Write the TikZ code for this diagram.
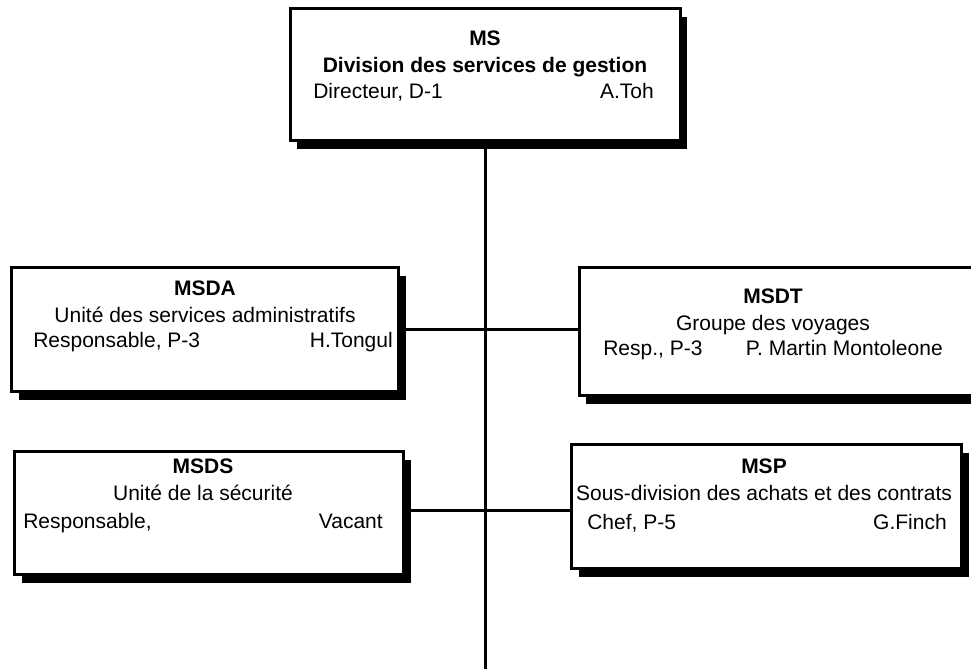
\documentclass[tikz,border=0pt]{standalone}
\usepackage{fontspec}
\setmainfont{Liberation Sans}
\usetikzlibrary{shadows}

\tikzset{
	unitbox/.style={draw,line width=2.25pt,fill=white,inner sep=0,outer sep=0,
		drop shadow={shadow xshift=5.5pt,shadow yshift=-6pt,fill=black,opacity=1}},
	heading/.style={anchor=north,inner sep=0,align=center,font=\fontsize{15.75}{20.25}\selectfont},
	roleleft/.style={anchor=base west,inner sep=0,font=\fontsize{15.75}{20.25}\selectfont},
	roleright/.style={anchor=base east,inner sep=0,font=\fontsize{15.75}{20.25}\selectfont},
	link/.style={line width=2.25pt}
}

\begin{document}
\begin{tikzpicture}[x=0.75pt,y=-0.75pt]
	\clip (0,0) rectangle (971,669);
	\coordinate (spine) at (484,669);
	\coordinate (up) at (484,329);
	\coordinate (low) at (484,510);
	\node[unitbox,minimum width=292.5pt,minimum height=99pt] (ms) at (485,74.5) {};
	\node[unitbox,minimum width=290.25pt,minimum height=93pt] (msda) at (205,329.5) {};
	\node[unitbox,minimum width=297pt,minimum height=96pt] (msdt) at (777,331.5) {};
	\node[unitbox,minimum width=291.75pt,minimum height=92.25pt] (msds) at (209,513) {};
	\node[unitbox,minimum width=292.5pt,minimum height=93pt] (msp) at (766.5,506.5) {};
	% connectors
	\draw[link] (ms.south) -- (ms.south |- spine);
	\draw[link] (msda.east |- up) -- (msdt.west |- up);
	\draw[link] (msds.east |- low) -- (msp.west |- low);
	% texts
	\node[heading] (ms-head) at (485,30.5) {\bfseries MS\\\bfseries Division des services de gestion};
	\node[roleleft] (ms-grade) at (313,98) {Directeur, D-1};
	\node[roleright] (ms-name) at (654,98) {A.Toh};
	\node[heading] (msda-head) at (205,280.5) {\bfseries MSDA\\Unité des services administratifs};
	\node[roleleft] (msda-grade) at (33,347) {Responsable, P-3};
	\node[roleright] (msda-name) at (393,347) {H.Tongul};
	\node[heading] (msdt-head) at (773,288.5) {\bfseries MSDT\\Groupe des voyages};
	\node[roleleft] (msdt-grade) at (603,355) {Resp., P-3};
	\node[roleright] (msdt-name) at (943,355) {P. Martin Montoleone};
	\node[heading] (msds-head) at (203,458.5) {\bfseries MSDS\\Unité de la sécurité};
	\node[roleleft] (msds-grade) at (23,528) {Responsable,};
	\node[roleright] (msds-name) at (383,528) {Vacant};
	\node[heading] (msp-head) at (764,458.5) {\bfseries MSP\\Sous-division des achats et des contrats};
	\node[roleleft] (msp-grade) at (587,529) {Chef, P-5};
	\node[roleright] (msp-name) at (947,529) {G.Finch};
\end{tikzpicture}
\end{document}
